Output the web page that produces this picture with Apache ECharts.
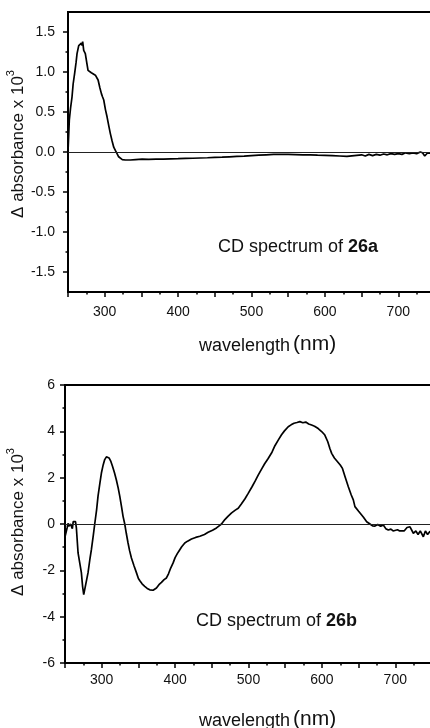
<!DOCTYPE html>
<html>
<head>
<meta charset="utf-8">
<script src="https://cdn.jsdelivr.net/npm/echarts@6/dist/echarts.min.js"></script>
<style>
  html, body { margin: 0; padding: 0; background: #fff; }
  #c { width: 430px; height: 728px; }
</style>
</head>
<body>
<div id="c"></div>
<script>
// CD spectrum of 26a: wavelength (nm) and Δ absorbance x 10^3
const wl26a = [250, 251.8, 253.5, 255.5, 257, 259, 261, 262.3, 264.6, 266.5, 268.2, 269.2, 270, 271.4, 273.6, 275.5, 277.3, 279.5, 281.8, 284.5, 287.3, 289, 291, 293.5, 295.5, 297, 298.7, 301, 303.2, 305.5, 307.7, 310, 312.3, 314.5, 316.8, 319, 321.3, 324, 328.2, 335, 342, 351, 360, 370, 380, 390, 400, 410, 420, 430, 440, 450, 460, 470, 480, 490, 500, 510, 520, 530, 540, 550, 560, 570, 580, 590, 600, 610, 620, 630, 640, 650, 655, 660, 665, 670, 675, 680, 685, 690, 695, 700, 705, 710, 715, 720, 725, 730, 733, 736, 740, 745, 750];
const cd26a = [0, 0.40, 0.55, 0.69, 0.85, 0.98, 1.12, 1.23, 1.33, 1.34, 1.36, 1.33, 1.38, 1.27, 1.23, 1.12, 1.02, 1.00, 0.99, 0.98, 0.96, 0.94, 0.90, 0.80, 0.73, 0.69, 0.65, 0.53, 0.44, 0.33, 0.23, 0.14, 0.06, 0.02, -0.02, -0.06, -0.083, -0.095, -0.10, -0.10, -0.095, -0.09, -0.092, -0.088, -0.09, -0.085, -0.083, -0.08, -0.078, -0.075, -0.072, -0.068, -0.065, -0.06, -0.055, -0.052, -0.045, -0.04, -0.035, -0.03, -0.028, -0.03, -0.032, -0.035, -0.036, -0.04, -0.042, -0.045, -0.05, -0.055, -0.045, -0.035, -0.05, -0.03, -0.045, -0.03, -0.04, -0.025, -0.035, -0.02, -0.03, -0.02, -0.03, -0.01, -0.02, -0.01, -0.02, 0.0, -0.01, -0.05, -0.01, -0.015, -0.01];

// CD spectrum of 26b
const wl26b = [250, 251.9, 253, 254.1, 255.2, 256.4, 257.5, 258.7, 260, 261.2, 261.9, 263.2, 264.3, 265.5, 267.8, 269, 270, 272.3, 274, 275.5, 276.5, 278.2, 281.4, 284, 286, 288.5, 290.5, 293, 295, 297.5, 299.6, 302, 304.1, 306.4, 308, 310, 312.5, 314.6, 317.5, 320, 322.5, 324.6, 327, 329.1, 331.4, 333.5, 335.9, 338, 340.5, 344, 347.3, 350, 352, 355, 358.6, 362, 365.5, 367.8, 370, 372, 374.6, 378, 381.4, 385, 388.2, 391, 394, 397.3, 400, 403, 406.4, 409, 413.2, 417, 422.3, 428, 433.7, 440, 445, 451, 456.4, 460, 463.2, 467.8, 472, 477, 482, 486, 490, 495, 499.6, 505, 509, 513.2, 518, 522, 526.8, 532, 536, 540.5, 545, 549, 554.1, 558, 562, 566, 570, 574, 578, 582, 586, 590, 595, 600, 604, 608, 611, 613.3, 617, 621, 625, 628, 632, 636, 640, 642.8, 645, 650, 656.4, 661, 665.5, 669, 672.3, 676, 680, 683.7, 687, 690.5, 694, 697, 699.6, 703, 706, 708.7, 712, 716, 720, 722, 724.6, 728, 731, 734, 738.2, 741, 744, 747, 750];
const cd26b = [-0.55, -0.5, -0.15, 0.03, -0.1, -0.17, 0.0, 0.04, -0.2, 0.1, 0.12, 0.04, 0.1, -0.17, -1.25, -1.3, -1.32, -2.1, -2.7, -3.05, -3.12, -2.98, -2.1, -1.5, -1.1, -0.5, 0, 0.6, 1.2, 1.75, 2.2, 2.55, 2.78, 2.9, 2.87, 2.85, 2.7, 2.5, 2.2, 1.9, 1.55, 1.2, 0.75, 0.33, 0, -0.4, -0.82, -1.15, -1.47, -1.8, -2.1, -2.35, -2.45, -2.58, -2.69, -2.78, -2.84, -2.87, -2.86, -2.83, -2.76, -2.62, -2.52, -2.4, -2.33, -2.15, -1.9, -1.68, -1.45, -1.28, -1.11, -0.98, -0.82, -0.74, -0.65, -0.58, -0.53, -0.45, -0.36, -0.27, -0.17, -0.08, 0, 0.19, 0.33, 0.48, 0.6, 0.68, 0.85, 1.08, 1.32, 1.62, 1.85, 2.11, 2.38, 2.6, 2.83, 3.1, 3.38, 3.62, 3.85, 4.02, 4.2, 4.28, 4.35, 4.38, 4.42, 4.37, 4.4, 4.32, 4.27, 4.22, 4.12, 3.98, 3.84, 3.55, 3.25, 3.05, 2.85, 2.7, 2.55, 2.4, 2.0, 1.61, 1.25, 1.04, 0.75, 0.55, 0.3, 0.1, 0.0, -0.08, -0.09, -0.02, -0.1, -0.04, -0.2, -0.26, -0.22, -0.3, -0.33, -0.25, -0.3, -0.26, -0.3, -0.15, -0.12, -0.2, -0.4, -0.3, -0.45, -0.3, -0.55, -0.3, -0.45, -0.33, -0.35];

// Tick labels
const xTickLabels = [300, 400, 500, 600, 700];
const yTickLabelsA = [-1.5, -1.0, -0.5, 0, 0.5, 1.0, 1.5];
const yTickLabelsB = [-6, -4, -2, 0, 2, 4, 6];

const FONT = '"Liberation Sans", Arial, Helvetica, sans-serif';
const INK = '#111';

function pairs(xs, ys) { return xs.map((x, i) => [x, ys[i]]); }

function xAxisCfg(gridIndex, margin) {
  return {
    type: 'value', gridIndex: gridIndex, min: 250, max: 750, interval: 50,
    axisLine: { show: true, onZero: false, lineStyle: { color: '#000', width: 2 } },
    axisTick: { show: true, length: 5, lineStyle: { color: '#000', width: 1.5 } },
    minorTick: { show: true, splitNumber: 2, length: 2.5, lineStyle: { color: '#000', width: 1.5 } },
    axisLabel: {
      margin: margin, fontSize: 14, fontFamily: FONT, color: INK,
      formatter: v => xTickLabels.includes(v) ? String(v) : ''
    },
    splitLine: { show: false }, minorSplitLine: { show: false }
  };
}

const zeroLine = {
  silent: true, symbol: 'none', label: { show: false },
  lineStyle: { color: '#222', width: 1, type: 'solid' },
  data: [{ yAxis: 0 }]
};

const titleY = (x, y) => ({
  type: 'text', x: x, y: y, rotation: Math.PI / 2,
  style: {
    text: '{n|Δ absorbance x 10}{s|3}',
    align: 'center', verticalAlign: 'middle', fill: INK,
    rich: {
      n: { fontSize: 17, fontFamily: FONT, fill: INK, lineHeight: 22, verticalAlign: 'bottom' },
      s: { fontSize: 11, fontFamily: FONT, fill: INK, lineHeight: 22, verticalAlign: 'top' }
    }
  }
});

const titleX = (x, y) => ({
  type: 'text', x: x, y: y,
  style: {
    text: '{a|wavelength}{b|(nm)}',
    align: 'left', verticalAlign: 'middle', fill: INK,
    rich: {
      a: { fontSize: 18, fontFamily: FONT, fill: INK, lineHeight: 24, verticalAlign: 'bottom' },
      b: { fontSize: 21, fontFamily: FONT, fill: INK, lineHeight: 24, verticalAlign: 'bottom', padding: [0, 0, 0, 3] }
    }
  }
});

const note = (x, y, id) => ({
  type: 'text', x: x, y: y,
  style: {
    text: '{r|CD spectrum of }{b|' + id + '}',
    align: 'left', verticalAlign: 'middle', fill: INK,
    rich: {
      r: { fontSize: 18, fontFamily: FONT, fill: INK },
      b: { fontSize: 18, fontFamily: FONT, fill: INK, fontWeight: 'bold' }
    }
  }
});

const chart = echarts.init(document.getElementById('c'), null, { renderer: 'canvas' });
chart.setOption({
  animation: false,
  backgroundColor: '#fff',
  grid: [
    { left: 68, top: 12, right: -5, height: 280, outerBoundsMode: 'none', containLabel: false, show: true, borderColor: '#000', borderWidth: 2, backgroundColor: 'transparent' },
    { left: 68, top: 32, right: -5, height: 240, outerBoundsMode: 'none', containLabel: false, show: false },
    { left: 65, top: 385, right: -2, height: 278, outerBoundsMode: 'none', containLabel: false, show: true, borderColor: '#000', borderWidth: 2, backgroundColor: 'transparent' }
  ],
  xAxis: [
    xAxisCfg(0, 13),
    { type: 'value', gridIndex: 1, min: 250, max: 750, show: false },
    xAxisCfg(2, 10)
  ],
  yAxis: [
    {
      type: 'value', gridIndex: 0, min: -1.75, max: 1.75,
      axisLine: { show: true, onZero: false, lineStyle: { color: '#000', width: 2 } },
      axisTick: { show: false }, axisLabel: { show: false }, splitLine: { show: false }
    },
    {
      type: 'value', gridIndex: 1, min: -1.5, max: 1.5, interval: 0.5,
      axisLine: { show: false, onZero: false },
      axisTick: { show: true, length: 5, lineStyle: { color: '#000', width: 1.5 } },
      minorTick: { show: true, splitNumber: 2, length: 2.5, lineStyle: { color: '#000', width: 1.5 } },
      axisLabel: {
        margin: 13, fontSize: 14, fontFamily: FONT, color: INK,
        formatter: v => yTickLabelsA.some(t => Math.abs(t - v) < 1e-9) ? v.toFixed(1) : ''
      },
      splitLine: { show: false }
    },
    {
      type: 'value', gridIndex: 2, min: -6, max: 6, interval: 2,
      axisLine: { show: true, onZero: false, lineStyle: { color: '#000', width: 2 } },
      axisTick: { show: true, length: 5, lineStyle: { color: '#000', width: 1.5 } },
      minorTick: { show: true, splitNumber: 2, length: 2.5, lineStyle: { color: '#000', width: 1.5 } },
      axisLabel: {
        margin: 10, fontSize: 14, fontFamily: FONT, color: INK,
        formatter: v => yTickLabelsB.includes(v) ? String(v) : ''
      },
      splitLine: { show: false }
    }
  ],
  series: [
    {
      name: '26a', type: 'line', xAxisIndex: 0, yAxisIndex: 0,
      data: pairs(wl26a, cd26a), showSymbol: false, symbol: 'none',
      lineStyle: { color: '#000', width: 1.7 }, markLine: zeroLine
    },
    {
      name: '26b', type: 'line', xAxisIndex: 2, yAxisIndex: 2,
      data: pairs(wl26b, cd26b), showSymbol: false, symbol: 'none',
      lineStyle: { color: '#000', width: 1.7 }, markLine: zeroLine
    }
  ],
  graphic: [
    titleY(16, 144),
    titleY(16, 522),
    titleX(199, 343),
    titleX(199, 718),
    note(218, 247, '26a'),
    note(196, 621, '26b')
  ]
});
</script>
</body>
</html>
